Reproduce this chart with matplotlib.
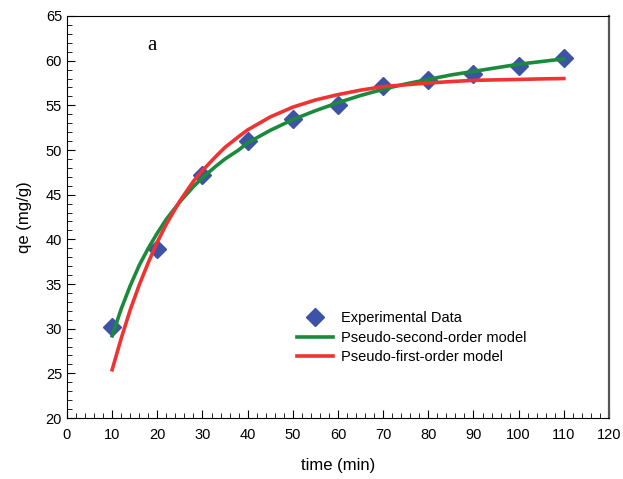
import matplotlib.pyplot as plt
from matplotlib.ticker import MultipleLocator

plt.rcParams['font.family'] = ['Liberation Sans', 'DejaVu Sans']

# experimental points
t_exp = [10, 20, 30, 40, 50, 60, 70, 80, 90, 100, 110]
q_exp = [30.2, 38.9, 47.2, 51.0, 53.5, 55.0, 57.2, 57.8, 58.5, 59.4, 60.3]

# fitted curves
t_fit = [10, 12, 14, 16, 18, 20, 22, 25, 28, 30, 33, 35, 38, 40, 45, 50, 55,
         60, 65, 70, 75, 80, 85, 90, 95, 100, 105, 110]
q_second = [29.2, 32.2, 34.8, 37.1, 39.0, 40.7, 42.25, 44.2, 45.9, 46.9,
            48.2, 49.0, 50.0, 50.8, 52.2, 53.4, 54.4, 55.3, 56.1, 56.8,
            57.4, 57.9, 58.4, 58.8, 59.2, 59.6, 59.9, 60.2]
q_first = [25.4, 28.9, 32.1, 34.9, 37.4, 39.7, 41.7, 44.3, 46.5, 47.7,
           49.3, 50.3, 51.5, 52.25, 53.7, 54.8, 55.6, 56.2, 56.7, 57.1,
           57.3, 57.5, 57.66, 57.8, 57.85, 57.9, 57.96, 58.0]

fig = plt.figure(figsize=(6.23, 4.79), dpi=100)
ax = fig.add_axes([0.1075, 0.1273, 0.87, 0.8393])

ax.plot(t_exp, q_exp, 'D', color='#3d53a6', markersize=9, label='Experimental Data', zorder=2)
ax.plot(t_fit, q_second, color='#1b8a3c', lw=2.6, label='Pseudo-second-order model', zorder=3)
ax.plot(t_fit, q_first, color='#ef3333', lw=2.6, label='Pseudo-first-order model', zorder=3)

ax.set_xlim(0, 120)
ax.set_ylim(20, 65)
ax.xaxis.set_major_locator(MultipleLocator(10))
ax.xaxis.set_minor_locator(MultipleLocator(2))
ax.yaxis.set_major_locator(MultipleLocator(5))
ax.yaxis.set_minor_locator(MultipleLocator(1))
ax.tick_params(which='both', direction='in', top=False, right=False, labelsize=10.5)
ax.tick_params(which='major', length=6)
ax.tick_params(which='minor', length=3.5)
ax.tick_params(axis='x', pad=7)

ax.spines['right'].set_color('#555555')
ax.spines['right'].set_linewidth(1.6)

ax.set_xlabel('time (min)', fontsize=12, labelpad=12)
ax.set_ylabel('qe (mg/g)', fontsize=12, labelpad=10)

ax.text(0.148, 0.915, 'a', transform=ax.transAxes, fontsize=15, family='Liberation Serif')

ax.legend(loc='center left', bbox_to_anchor=(0.4, 0.2), frameon=False, fontsize=10.5,
          handlelength=2.5, handletextpad=0.55, labelspacing=0.4)

fig.savefig('out.png', dpi=100)
